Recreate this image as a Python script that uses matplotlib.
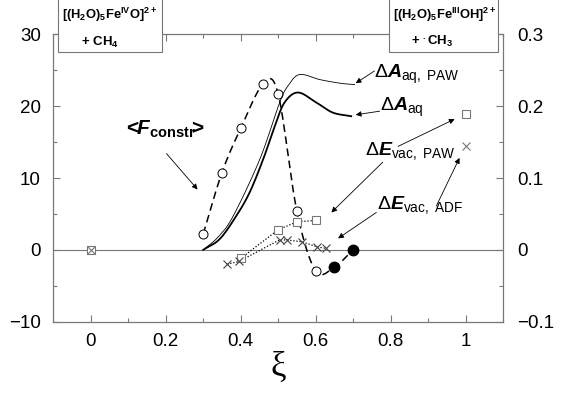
import matplotlib
matplotlib.use("Agg")
import matplotlib.pyplot as plt
from matplotlib.patches import Rectangle
import numpy as np

plt.rcParams['font.family'] = ['Liberation Sans', 'DejaVu Sans']
plt.rcParams['mathtext.fontset'] = 'custom'
plt.rcParams['mathtext.rm'] = 'Liberation Sans'
plt.rcParams['mathtext.it'] = 'Liberation Sans:italic:bold'
plt.rcParams['mathtext.bf'] = 'Liberation Sans:bold'

# <F_constr> (open circles, then filled circles)
xi_F = [0.30, 0.35, 0.40, 0.46, 0.50, 0.55, 0.60]
F_constr = [2.2, 10.75, 16.9, 23.1, 21.7, 5.4, -2.9]
xi_Ff = [0.65, 0.70]
F_fill = [-2.4, 0.0]

# Delta A curves
xi_A = [0.30, 0.344, 0.388, 0.424, 0.46, 0.491, 0.517, 0.553, 0.602, 0.646, 0.695]
A_aq = [0.0, 1.5, 4.7, 8.0, 12.6, 17.2, 20.5, 21.9, 20.5, 19.1, 18.6]
xi_Ap = [0.30, 0.34, 0.38, 0.451, 0.504, 0.526, 0.557, 0.611, 0.664, 0.704]
A_paw = [0.0, 1.8, 4.7, 12.6, 20.5, 22.8, 24.4, 23.7, 23.2, 23.0]

# Delta E in vacuum
xi_Ep = [0.40, 0.50, 0.55, 0.60]
E_paw = [-1.2, 2.8, 3.9, 4.1]
xi_Ea = [0.364, 0.396, 0.504, 0.524, 0.563, 0.604, 0.628]
E_adf = [-2.0, -1.6, 1.4, 1.37, 1.13, 0.42, 0.2]
xi_end = [0.0, 1.0]
E_paw_end = [0.0, 18.85]
E_adf_end = [0.0, 14.4]


def smooth(x, y, n=20):
    # catmull-rom through the given points, just for drawing
    x = np.asarray(x, float)
    y = np.asarray(y, float)
    px = np.concatenate([[2 * x[0] - x[1]], x, [2 * x[-1] - x[-2]]])
    py = np.concatenate([[2 * y[0] - y[1]], y, [2 * y[-1] - y[-2]]])
    t = np.linspace(0, 1, n, endpoint=False)
    ox, oy = [], []
    for i in range(1, len(px) - 2):
        for p, o in ((px, ox), (py, oy)):
            p0, p1, p2, p3 = p[i - 1], p[i], p[i + 1], p[i + 2]
            o.extend(0.5 * (2 * p1 + (-p0 + p2) * t
                            + (2 * p0 - 5 * p1 + 4 * p2 - p3) * t ** 2
                            + (-p0 + 3 * p1 - 3 * p2 + p3) * t ** 3))
    ox.append(x[-1])
    oy.append(y[-1])
    return np.array(ox), np.array(oy)


fig = plt.figure(figsize=(5.61, 3.93), dpi=100)
ax = fig.add_axes([0.095, 0.1814, 0.8016, 0.7313])
grey = '#777777'

ax.axhline(0, color=grey, lw=0.8, zorder=0)

sx, sy = smooth(xi_F + xi_Ff, F_constr + F_fill)
ax.plot(sx, sy, color='black', lw=1.1, dashes=(5, 3))
ax.plot(xi_F, F_constr, 'o', ms=6.5, mfc='white', mec='black', mew=0.7)
ax.plot(xi_Ff, F_fill, 'o', ms=7.5, color='black')

sx, sy = smooth(xi_Ap, A_paw)
ax.plot(sx, sy, color='black', lw=0.6)
sx, sy = smooth(xi_A, A_aq)
ax.plot(sx, sy, color='black', lw=1.3)

ax.plot(xi_Ep, E_paw, color='black', lw=0.9, ls=(0, (1, 1.5)))
ax.plot(xi_Ea, E_adf, color='black', lw=0.9, ls=(0, (1, 1.5)))
ax.plot(xi_Ep, E_paw, 's', ms=6, mfc='white', mec=grey, mew=0.8)
ax.plot(xi_Ea, E_adf, 'x', ms=6, color='#444444', mew=0.8)
ax.plot(xi_end, E_paw_end, 's', ms=6, mfc='white', mec=grey, mew=0.8)
ax.plot(xi_end, E_adf_end, 'x', ms=6, color=grey, mew=0.8)

ax.set_xlim(-0.1, 1.1)
ax.set_ylim(-10, 30)
ax.set_xticks([0, 0.2, 0.4, 0.6, 0.8, 1.0])
ax.set_xticklabels(['0', '0.2', '0.4', '0.6', '0.8', '1'])
ax.set_xticks(np.arange(-0.1, 1.11, 0.1), minor=True)
ax.set_yticks([-10, 0, 10, 20, 30])
ax.set_yticklabels(['\u221210', '0', '10', '20', '30'])
ax.set_yticks(np.arange(-10, 31, 5), minor=True)
ax.tick_params(which='both', direction='in', top=True, color=grey, width=0.8, labelsize=13.5)
ax.tick_params(which='major', length=5)
ax.tick_params(which='minor', length=3)
ax.tick_params(axis='y', pad=9)
ax.tick_params(axis='x', pad=8)
for s in ax.spines.values():
    s.set_color(grey)
    s.set_linewidth(0.8)
ax.set_xlabel('\u03be', family='Liberation Serif', fontsize=25, labelpad=1)

ax2 = ax.twinx()
ax2.set_ylim(-0.1, 0.3)
ax2.set_yticks([-0.1, 0, 0.1, 0.2, 0.3])
ax2.set_yticklabels(['\u22120.1', '0', '0.1', '0.2', '0.3'])
ax2.set_yticks(np.arange(-0.1, 0.31, 0.05), minor=True)
ax2.tick_params(which='both', direction='in', color=grey, width=0.8, labelsize=13.5, pad=10)
ax2.tick_params(which='major', length=5)
ax2.tick_params(which='minor', length=3)
for s in ax2.spines.values():
    s.set_color(grey)
    s.set_linewidth(0.8)

# labels and arrows
arr = dict(arrowstyle='-|>', lw=0.6, color='black', mutation_scale=8, shrinkA=0, shrinkB=0)
ax.text(0.085, 16.8, r'$\mathbf{<}\!\!\mathit{F}_{\mathbf{constr}}\!\!\mathbf{>}$', fontsize=15, va='center')
ax.annotate('', xy=(0.285, 8.4), xytext=(0.202, 13.4), arrowprops=arr)
ax.text(0.757, 24.4, r'$\Delta\mathit{A}_{\mathrm{aq,\ PAW}}$', fontsize=14, va='center')
ax.annotate('', xy=(0.707, 23.2), xytext=(0.757, 24.9), arrowprops=arr)
ax.text(0.771, 19.8, r'$\Delta\mathit{A}_{\mathrm{aq}}$', fontsize=14, va='center')
ax.annotate('', xy=(0.707, 18.8), xytext=(0.771, 19.3), arrowprops=arr)
ax.text(0.731, 13.7, r'$\Delta\mathit{E}_{\mathrm{vac,\ PAW}}$', fontsize=14, va='center')
ax.annotate('', xy=(0.971, 18.2), xytext=(0.82, 14.4), arrowprops=arr)
ax.annotate('', xy=(0.642, 5.2), xytext=(0.779, 12.2), arrowprops=arr)
ax.text(0.765, 6.3, r'$\Delta\mathit{E}_{\mathrm{vac,\ ADF}}$', fontsize=14, va='center')
ax.annotate('', xy=(0.984, 12.8), xytext=(0.922, 6.1), arrowprops=arr)
ax.annotate('', xy=(0.66, 1.6), xytext=(0.762, 5.2), arrowprops=arr)

# reactant / product boxes at the top
for x0, w in ((58, 104), (389, 109)):
    fig.add_artist(Rectangle((x0 / 561, 1 - 52 / 393), w / 561, 0.3, transform=fig.transFigure,
                             facecolor='white', edgecolor=grey, lw=0.8, zorder=5))
fig.text(0.196, 0.962, r'$\mathbf{[(H_2O)_5Fe^{IV}O]^{2+}}$', fontsize=9.3, ha='center', va='center', zorder=6)
fig.text(0.178, 0.893, r'$\mathbf{+\ CH_4}$', fontsize=9.5, ha='center', va='center', zorder=6)
fig.text(0.792, 0.962, r'$\mathbf{[(H_2O)_5Fe^{III}OH]^{2+}}$', fontsize=9.3, ha='center', va='center', zorder=6)
fig.text(0.770, 0.895, r'$\mathbf{+\ ^{.}CH_3}$', fontsize=9.5, ha='center', va='center', zorder=6)

fig.savefig('out.png', dpi=100)
